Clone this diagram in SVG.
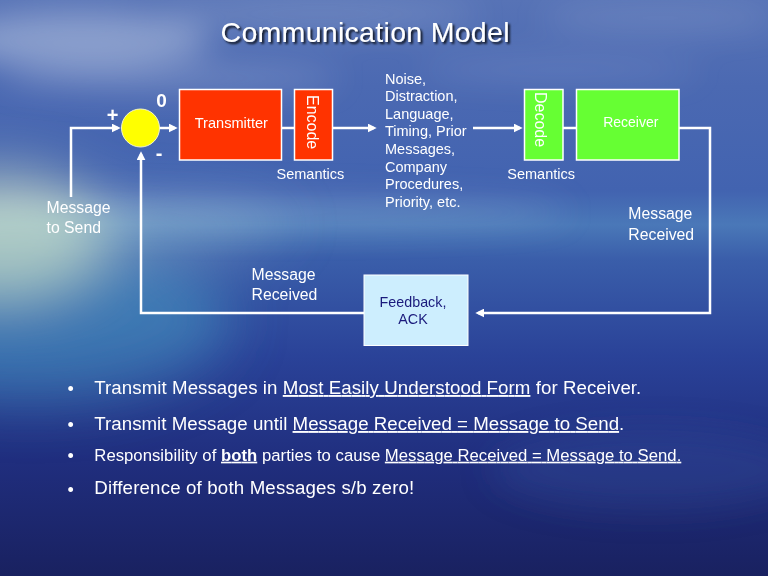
<svg xmlns="http://www.w3.org/2000/svg" width="768" height="576" viewBox="0 0 768 576">
<defs>
  <linearGradient id="bg" x1="0" y1="0" x2="0" y2="1">
    <stop offset="0" stop-color="#5773b6"/>
    <stop offset="0.15" stop-color="#4b69b2"/>
    <stop offset="0.33" stop-color="#4263b0"/>
    <stop offset="0.39" stop-color="#4a78b8"/>
    <stop offset="0.45" stop-color="#3a5eaa"/>
    <stop offset="0.62" stop-color="#2a4298"/>
    <stop offset="0.8" stop-color="#202e7e"/>
    <stop offset="1" stop-color="#192160"/>
  </linearGradient>
  <filter id="blur" x="-50%" y="-50%" width="200%" height="200%"><feGaussianBlur stdDeviation="16"/></filter>
  <filter id="blur2" x="-50%" y="-50%" width="200%" height="200%"><feGaussianBlur stdDeviation="28"/></filter>
  <filter id="shadow" x="-10%" y="-30%" width="120%" height="160%"><feDropShadow dx="2" dy="2" stdDeviation="0.8" flood-color="#000" flood-opacity="0.85"/></filter>
  <marker id="arr" viewBox="0 0 10 10" refX="7" refY="5" markerWidth="9" markerHeight="9" markerUnits="userSpaceOnUse" orient="auto">
    <path d="M0,0 L10,5 L0,10 Z" fill="#fff"/>
  </marker>
</defs>
<style>
  .t { font-family: "Liberation Sans", Arial, sans-serif; fill: #fff; }
  .lbl { font-size: 15.8px; }
  .sm { font-size: 14.5px; }
  .box { stroke: #fff; stroke-width: 1.5; }
  .red { fill: #ff3300; }
  .grn { fill: #66ff33; }
  .ln { stroke: #fff; stroke-width: 2.5; fill: none; }
  .arr { marker-end: url(#arr); }
  .bul { font-size: 18.7px; }
  .u { text-decoration: underline; }
</style>

<!-- background -->
<rect x="0" y="0" width="768" height="576" fill="url(#bg)"/>
<g filter="url(#blur)">
  <ellipse cx="80" cy="40" rx="130" ry="28" fill="#dfe6f2" opacity="0.4"/>
  <ellipse cx="320" cy="14" rx="160" ry="12" fill="#dfe6f2" opacity="0.22"/>
  <ellipse cx="660" cy="18" rx="120" ry="14" fill="#dfe6f2" opacity="0.15"/>
  <ellipse cx="170" cy="78" rx="170" ry="12" fill="#e6ecf5" opacity="0.25"/>
  <ellipse cx="560" cy="70" rx="140" ry="10" fill="#e6ecf5" opacity="0.15"/>
  <ellipse cx="250" cy="212" rx="320" ry="16" fill="#cfe0f0" opacity="0.2"/>
  <ellipse cx="650" cy="470" rx="160" ry="40" fill="#3a5aa8" opacity="0.25"/>
</g>
<g filter="url(#blur2)">
  <ellipse cx="30" cy="320" rx="200" ry="80" fill="#4aa4c8" opacity="0.5"/>
  <ellipse cx="0" cy="235" rx="110" ry="65" fill="#e4f2c4" opacity="0.6"/>
  <ellipse cx="90" cy="225" rx="200" ry="22" fill="#c8e4e0" opacity="0.35"/>
</g>

<!-- title -->
<text class="t" x="365" y="42" text-anchor="middle" font-size="28.5" textLength="289" filter="url(#shadow)">Communication Model</text>

<!-- connectors -->
<g id="connectors">
  <path class="ln arr" d="M71,197 V128 H118"/>
  <path class="ln arr" d="M159,128 H175"/>
  <path class="ln" d="M282,128 H294"/>
  <path class="ln arr" d="M333,128 H374"/>
  <path class="ln arr" d="M473,128 H520"/>
  <path class="ln" d="M563,128 H576"/>
  <path class="ln arr" d="M679,128 H710 V313 H478"/>
  <path class="ln arr" d="M364,313 H141 V154"/>
</g>

<!-- summing junction -->
<g id="sum">
  <circle cx="140.5" cy="128" r="19" fill="#ffff00" stroke="#f4f4c8" stroke-width="1"/>
  <text class="t" x="112.5" y="122" text-anchor="middle" font-size="20" font-weight="bold">+</text>
  <text class="t" x="161.5" y="107" text-anchor="middle" font-size="19" font-weight="bold">0</text>
  <text class="t" x="159" y="160" text-anchor="middle" font-size="20" font-weight="bold">-</text>
</g>

<g id="message-to-send">
  <text class="t lbl" x="46.5" y="213">Message</text>
  <text class="t lbl" x="46.5" y="233">to Send</text>
</g>

<g id="transmitter">
  <rect class="box red" x="179.5" y="89.5" width="102" height="70.5"/>
  <text class="t" x="231.3" y="127.5" text-anchor="middle" font-size="14.6">Transmitter</text>
</g>

<g id="encode">
  <rect class="box red" x="294.5" y="89.5" width="38" height="70.5"/>
  <text class="t" transform="translate(313,95) rotate(90)" dy="0.35em" font-size="16">Encode</text>
  <text class="t sm" x="276.5" y="179">Semantics</text>
</g>

<g id="noise">
  <text class="t sm" x="385" y="83.5">Noise,</text>
  <text class="t sm" x="385" y="101.1">Distraction,</text>
  <text class="t sm" x="385" y="118.7">Language,</text>
  <text class="t sm" x="385" y="136.3">Timing, Prior</text>
  <text class="t sm" x="385" y="153.9">Messages,</text>
  <text class="t sm" x="385" y="171.5">Company</text>
  <text class="t sm" x="385" y="189.1">Procedures,</text>
  <text class="t sm" x="385" y="206.7">Priority, etc.</text>
</g>

<g id="decode">
  <rect class="box grn" x="524.5" y="89.5" width="38.5" height="70.5"/>
  <text class="t" transform="translate(541,92) rotate(90)" dy="0.35em" font-size="16">Decode</text>
  <text class="t sm" x="507.3" y="179">Semantics</text>
</g>

<g id="receiver">
  <rect class="box grn" x="576.5" y="89.5" width="102.5" height="70.5"/>
  <text class="t" x="630.8" y="127.3" text-anchor="middle" font-size="14">Receiver</text>
</g>

<g id="message-received-right">
  <text class="t lbl" x="628.3" y="218.5">Message</text>
  <text class="t lbl" x="628.3" y="239.5">Received</text>
</g>

<g id="feedback">
  <rect x="364" y="275" width="104" height="70.5" fill="#cdeefe" stroke="#fff" stroke-width="1"/>
  <text x="413" y="306.7" text-anchor="middle" font-size="14.3" font-family="Liberation Sans, Arial, sans-serif" fill="#1a1a7c">Feedback,</text>
  <text x="413" y="324.3" text-anchor="middle" font-size="14.3" font-family="Liberation Sans, Arial, sans-serif" fill="#1a1a7c">ACK</text>
</g>

<g id="message-received-left">
  <text class="t lbl" x="251.5" y="279.5">Message</text>
  <text class="t lbl" x="251.5" y="300">Received</text>
</g>

<!-- bullets -->
<g id="bullets">
  <text class="t" x="70.7" y="395" text-anchor="middle" font-size="18">•</text>
  <text class="t" x="70.7" y="431" text-anchor="middle" font-size="18">•</text>
  <text class="t" x="70.7" y="462" text-anchor="middle" font-size="18">•</text>
  <text class="t" x="70.7" y="495.5" text-anchor="middle" font-size="18">•</text>

  <text class="t bul" x="94.3" y="394" textLength="547">Transmit Messages in <tspan class="u">Most Easily Understood Form</tspan> for Receiver.</text>
  <text class="t bul" x="94.3" y="430" textLength="530">Transmit Message until <tspan class="u">Message Received = Message to Send</tspan>.</text>
  <text class="t" x="94.3" y="460.7" font-size="16.7" textLength="587">Responsibility of <tspan class="u" font-weight="bold">both</tspan> parties to cause <tspan class="u">Message Received = Message to Send.</tspan></text>
  <text class="t bul" x="94.3" y="494.3" textLength="320">Difference of both Messages s/b zero!</text>
</g>
</svg>
